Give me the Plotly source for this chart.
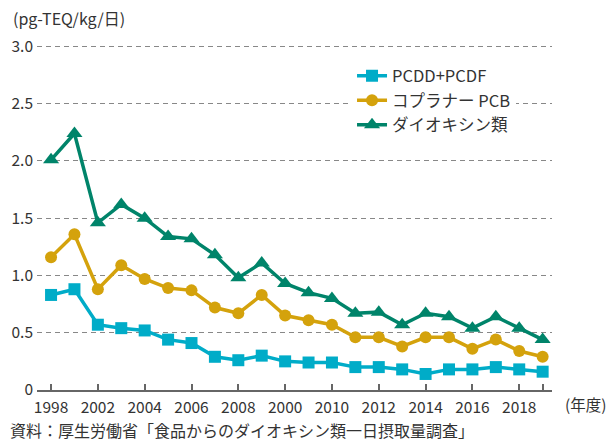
import plotly.graph_objects as go

years = list(range(1998, 2020))
pcdd_pcdf = [0.83, 0.88, 0.57, 0.54, 0.52, 0.44, 0.41, 0.29, 0.26, 0.30, 0.25, 0.24,
             0.24, 0.20, 0.20, 0.18, 0.14, 0.18, 0.18, 0.20, 0.18, 0.16]
coplanar_pcb = [1.16, 1.36, 0.88, 1.09, 0.97, 0.89, 0.87, 0.72, 0.67, 0.83, 0.65, 0.61,
                0.57, 0.46, 0.46, 0.38, 0.46, 0.46, 0.36, 0.44, 0.34, 0.29]
dioxins = [2.01, 2.24, 1.46, 1.62, 1.50, 1.34, 1.32, 1.18, 0.98, 1.11, 0.93, 0.85,
           0.80, 0.67, 0.68, 0.57, 0.67, 0.64, 0.54, 0.64, 0.54, 0.44]

series_names = ["PCDD+PCDF", "コプラナー PCB", "ダイオキシン類"]
x_tick_vals = [1998, 2000, 2002, 2004, 2006, 2008, 2010, 2012, 2014, 2016, 2018, 2019]
x_tick_text = ["1998", "2002", "2004", "2006", "2008", "2000", "2010", "2012", "2014", "2016", "2018", ""]
y_tick_vals = [0, 0.5, 1.0, 1.5, 2.0, 2.5, 3.0]
y_tick_text = ["0", "0.5", "1.0", "1.5", "2.0", "2.5", "3.0"]

FONT = "Noto Sans CJK JP"
TXT = "#333333"

fig = go.Figure()
fig.add_trace(go.Scatter(x=years, y=pcdd_pcdf, name=series_names[0], mode="lines+markers",
                         line=dict(color="#00acc8", width=3.5),
                         marker=dict(symbol="square", size=12, color="#00acc8")))
fig.add_trace(go.Scatter(x=years, y=coplanar_pcb, name=series_names[1], mode="lines+markers",
                         line=dict(color="#d4a20c", width=3.5),
                         marker=dict(symbol="circle", size=12, color="#d4a20c")))
fig.add_trace(go.Scatter(x=years, y=dioxins, name=series_names[2], mode="lines+markers",
                         line=dict(color="#00846a", width=3.5),
                         marker=dict(symbol="triangle-up", size=14, color="#00846a")))

fig.update_layout(
    width=606, height=441,
    margin=dict(l=37, r=54, t=43, b=51),
    paper_bgcolor="white", plot_bgcolor="white",
    font=dict(family=FONT, size=15, color=TXT),
    showlegend=True,
    legend=dict(x=0.6117, y=0.955, xanchor="left", yanchor="top",
                bgcolor="white", font=dict(family=FONT, size=16.5, color=TXT),
                tracegroupgap=0, itemwidth=30),
    xaxis=dict(range=[1997.4, 2019.4], tickvals=x_tick_vals, ticktext=x_tick_text,
               showgrid=False, zeroline=False, showline=True, linecolor="#666666", linewidth=2,
               ticks="inside", ticklen=6, tickcolor="#666666", tickwidth=1.5,
               ticklabelstandoff=2,
               tickfont=dict(family=FONT, size=15.5, color=TXT), fixedrange=True),
    yaxis=dict(range=[0, 3.03], tickvals=y_tick_vals, ticktext=y_tick_text,
               showgrid=True, gridcolor="#888888", griddash="5px,4px", gridwidth=1,
               zeroline=False, showline=False, ticks="", ticklabelstandoff=3,
               tickfont=dict(family=FONT, size=15.5, color=TXT), fixedrange=True),
    annotations=[
        dict(text="(pg-TEQ/kg/日)", xref="paper", yref="paper", x=-0.05, y=1.0,
             yshift=25, xanchor="left", yanchor="middle", showarrow=False,
             font=dict(family=FONT, size=16, color=TXT)),
        dict(text="(年度)", xref="paper", yref="paper", x=1.0, y=0, xshift=11, yshift=-14,
             xanchor="left", yanchor="middle", showarrow=False,
             font=dict(family=FONT, size=15.5, color=TXT)),
        dict(text="資料：厚生労働省「食品からのダイオキシン類一日摂取量調査」", xref="paper", yref="paper",
             x=-0.056, y=0, yshift=-40, xanchor="left", yanchor="middle", showarrow=False,
             font=dict(family=FONT, size=16, color=TXT)),
    ],
)

fig.write_html("out.html", config={"displayModeBar": False},
               post_script="document.body.style.margin='0';document.body.style.overflow='hidden';")
